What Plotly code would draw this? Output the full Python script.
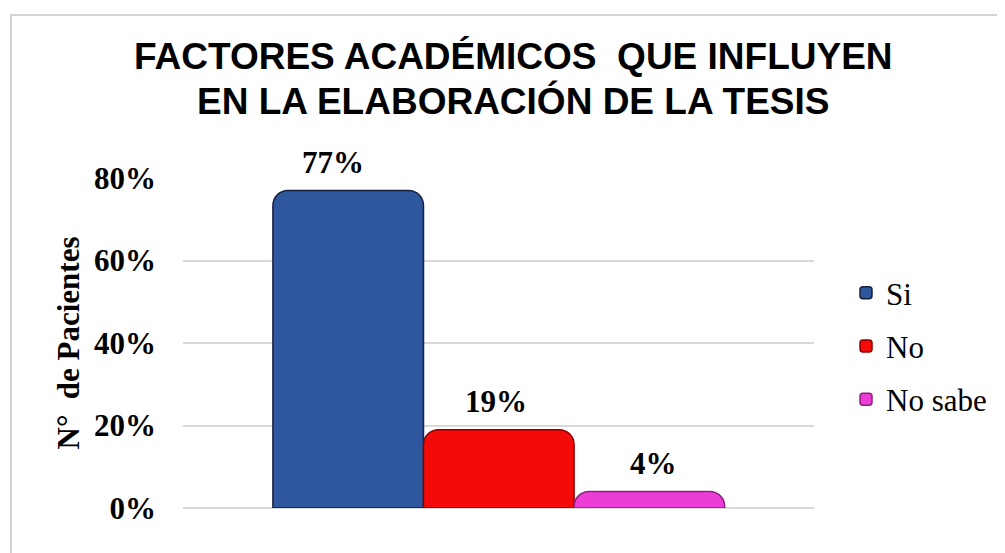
import plotly.graph_objects as go

categories = ["Si", "No", "No sabe"]
values = [0.77, 0.19, 0.04]
labels = ["77%", "19%", "4%"]
label_xshift = [-15, -3, 4]
colors = ["#2F579E", "#F50A0A", "#EC3ED6"]
edge_colors = ["#14213F", "#8A0000", "#8E1F80"]
y_ticks = [0, 0.2, 0.4, 0.6, 0.8]
y_tick_labels = ["0%", "20%", "40%", "60%", "80%"]
title_lines = ["FACTORES ACADÉMICOS  QUE INFLUYEN", "EN LA ELABORACIÓN DE LA TESIS"]

SERIF = "Liberation Serif"
SANS = "Liberation Sans"

fig = go.Figure()
for cat, v, col, ec in zip(categories, values, colors, edge_colors):
    fig.add_trace(go.Bar(
        x=[cat], y=[v], name=cat, width=1, legendgroup=cat,
        marker=dict(color=col, line=dict(color=ec, width=1.5)),
    ))

annotations = []
for cat, v, lab, dx in zip(categories, values, labels, label_xshift):
    annotations.append(dict(
        x=cat, y=v, xref="x", yref="y", text=lab, showarrow=False,
        xshift=dx, yshift=28, yanchor="middle",
        font=dict(family=SERIF, size=31, color="black", weight="bold"),
    ))
# title lines (figure is drawn 8px offset by the page body margin)
for i, line in enumerate(title_lines):
    annotations.append(dict(
        x=(513 - 8 - 175) / 631, xref="paper", xanchor="center",
        y=(500 - (57 + 44 * i - 8)) / 330, yref="paper", yanchor="middle",
        text=line, showarrow=False,
        font=dict(family=SANS, size=37, color="black", weight="bold"),
    ))

fig.update_layout(
    width=997, height=545,
    paper_bgcolor="white", plot_bgcolor="white",
    margin=dict(l=175, r=191, t=170, b=45, autoexpand=False),
    barmode="overlay",
    barcornerradius=15,
    showlegend=True,
    legend=dict(
        x=(846 - 183) / 631, xanchor="left", y=(508 - 346) / 330, yanchor="middle",
        font=dict(family=SERIF, size=31, color="black"),
        tracegroupgap=10, bgcolor="rgba(0,0,0,0)",
    ),
    yaxis=dict(
        range=[0, 0.8], tickvals=y_ticks, ticktext=y_tick_labels,
        showgrid=True, gridcolor="#D9D9D9", gridwidth=2,
        zeroline=True, zerolinecolor="#D9D9D9", zerolinewidth=2,
        tickfont=dict(family=SERIF, size=31, color="black", weight="bold"),
        ticks="", ticklabelstandoff=26, automargin=False,
        title=dict(text="N°  de Pacientes",
                   font=dict(family=SERIF, size=31, color="black", weight="bold"),
                   standoff=5),
    ),
    xaxis=dict(range=[-1.097, 3.093], showticklabels=False, showgrid=False,
               zeroline=False, showline=False, automargin=False),
    annotations=annotations,
    shapes=[dict(type="rect", xref="paper", yref="paper",
                 x0=(3 - 175) / 631, x1=1.6, y0=-0.4, y1=(500 - 7) / 330,
                 line=dict(color="#D4D4D4", width=2), layer="below")],
)

fig.write_html("out.html")
